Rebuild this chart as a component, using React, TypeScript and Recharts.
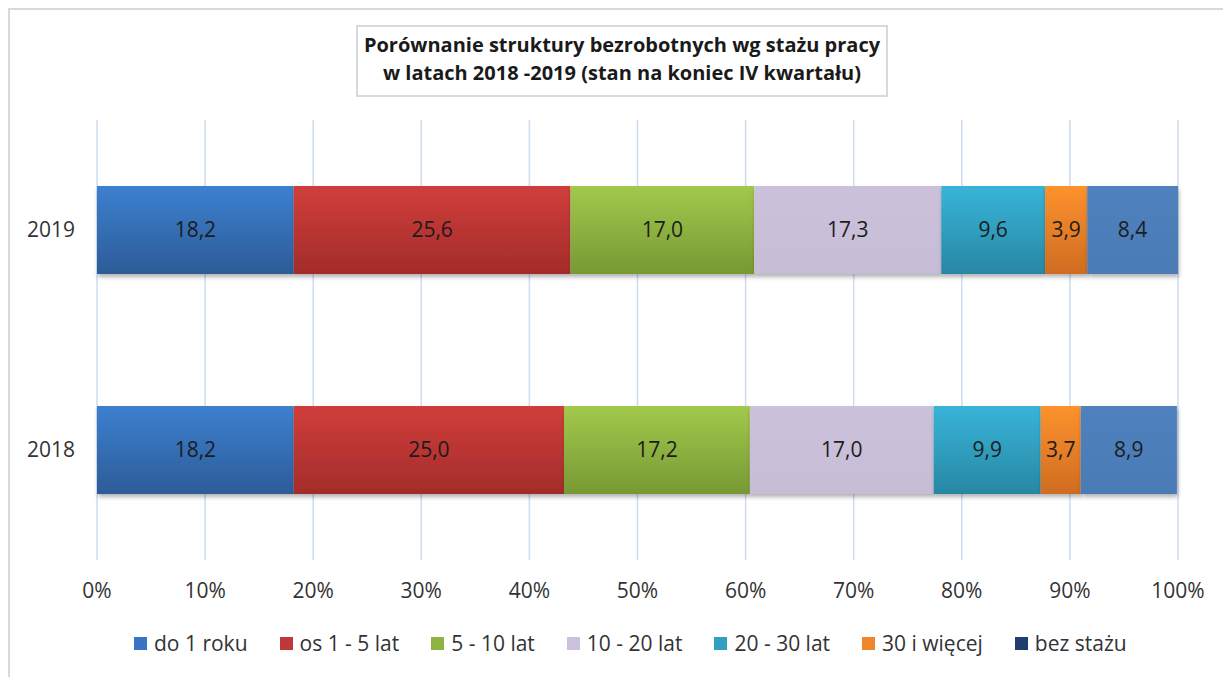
import React from "react";
import { BarChart, Bar, XAxis, YAxis, CartesianGrid, LabelList } from "recharts";

const years = ["2019", "2018"];
const seriesNames = [
  "do 1 roku",
  "os 1 - 5 lat",
  "5 - 10 lat",
  "10 - 20 lat",
  "20 - 30 lat",
  "30 i więcej",
  "bez stażu",
];
const do1Roku = [18.2, 18.2];
const od1do5 = [25.6, 25.0];
const od5do10 = [17.0, 17.2];
const od10do20 = [17.3, 17.0];
const od20do30 = [9.6, 9.9];
const od30 = [3.9, 3.7];
const bezStazu = [8.4, 8.9];
const xTicks = [0, 10, 20, 30, 40, 50, 60, 70, 80, 90, 100];

const seriesValues = [do1Roku, od1do5, od5do10, od10do20, od20do30, od30, bezStazu];

// gradient top / bottom, legend swatch
const seriesColors = [
  { top: "#3d80d0", bottom: "#2c5c98", legend: "#3a74c4" },
  { top: "#d03e3b", bottom: "#a32c2a", legend: "#c0393a" },
  { top: "#a2c94c", bottom: "#779934", legend: "#8db443" },
  { top: "#ccc1da", bottom: "#c8bdd7", legend: "#ccc1da" },
  { top: "#38b4d8", bottom: "#2887a3", legend: "#31a0c0" },
  { top: "#fd922d", bottom: "#cf6c21", legend: "#f0852a" },
  { top: "#4f81bd", bottom: "#4a7bb7", legend: "#1f3d6e" },
];

const rows = years.map((year, i) => {
  const row: Record<string, string | number> = { year };
  seriesValues.forEach((vals, s) => {
    row[`s${s}`] = vals[i];
  });
  return row;
});

const FONT = "'Open Sans', sans-serif";
const fmt = (v: any) => Number(v).toFixed(1).replace(".", ",");

export default function App() {
  return (
    <div
      style={{
        position: "relative",
        width: 1221,
        height: 667,
        borderTop: "2px solid #d9d9d9",
        borderLeft: "2px solid #d9d9d9",
        background: "#fff",
        fontFamily: FONT,
        overflow: "hidden",
      }}
    >
      <div
        style={{
          position: "absolute",
          left: 346,
          top: 15,
          width: 528,
          height: 64,
          border: "2px solid #d9d9d9",
          textAlign: "center",
          fontWeight: 700,
          fontSize: 20,
          lineHeight: "28px",
          paddingTop: 4,
          color: "#1a1a1a",
          zIndex: 2,
          boxSizing: "content-box",
          whiteSpace: "nowrap",
        }}
      >
        Porównanie struktury bezrobotnych wg stażu pracy
        <br />w latach 2018 -2019 (stan na koniec IV kwartału)
      </div>

      <BarChart
        width={1221}
        height={667}
        data={rows}
        layout="vertical"
        barCategoryGap="30%"
        margin={{ top: 110, right: 53, bottom: 77, left: 0 }}
      >
        <defs>
          {seriesColors.map((c, s) => (
            <linearGradient key={s} id={`grad${s}`} x1="0" y1="0" x2="0" y2="1">
              <stop offset="0%" stopColor={c.top} />
              <stop offset="100%" stopColor={c.bottom} />
            </linearGradient>
          ))}
          <filter id="barShadow" x="-5%" y="-10%" width="110%" height="140%">
            <feDropShadow dx="1" dy="3" stdDeviation="2" floodColor="#000" floodOpacity="0.3" />
          </filter>
        </defs>
        <CartesianGrid horizontal={false} stroke="#cddcf0" strokeWidth={1.5} />
        <XAxis
          type="number"
          domain={[0, 100]}
          ticks={xTicks}
          tickFormatter={(v) => `${v}%`}
          axisLine={false}
          tickLine={false}
          height={40}
          tickMargin={17}
          tick={{ fontSize: 21, fill: "#333", fontFamily: FONT }}
          interval={0}
        />
        <YAxis
          type="category"
          dataKey="year"
          width={87}
          axisLine={false}
          tickLine={false}
          tickMargin={16}
          tick={{ fontSize: 21, fill: "#333", fontFamily: FONT }}
        />
        {seriesNames.map((name, s) => (
          <Bar
            key={name}
            dataKey={`s${s}`}
            name={name}
            stackId="a"
            fill={`url(#grad${s})`}
            filter="url(#barShadow)"
            isAnimationActive={false}
          >
            <LabelList
              dataKey={`s${s}`}
              position="center"
              formatter={fmt}
              style={{ fontSize: 21, fill: "#1c1c1c", fontFamily: FONT }}
            />
          </Bar>
        ))}
      </BarChart>

      <div
        style={{
          position: "absolute",
          left: 124,
          top: 621,
          display: "flex",
          gap: 32,
          fontSize: 21,
          color: "#333",
          lineHeight: "24px",
        }}
      >
        {seriesNames.map((name, s) => (
          <div key={name} style={{ display: "flex", alignItems: "center" }}>
            <span
              style={{
                display: "inline-block",
                width: 13,
                height: 13,
                background: seriesColors[s].legend,
                marginRight: 7,
              }}
            />
            {name}
          </div>
        ))}
      </div>
    </div>
  );
}
